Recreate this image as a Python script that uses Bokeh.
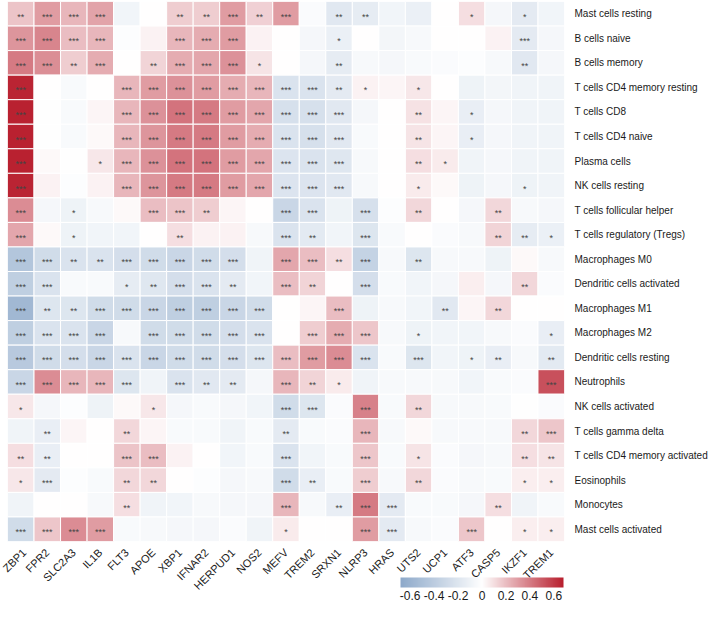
import numpy as np
from bokeh.plotting import figure
from bokeh.models import ColumnDataSource, LinearColorMapper, ColorBar, FixedTicker, CustomJSTickFormatter, AllLabels
from bokeh.transform import transform
from bokeh.embed import file_html
from bokeh.resources import INLINE
from bokeh.core.properties import value

genes = ["ZBP1", "FPR2", "SLC2A3", "IL1B", "FLT3", "APOE", "XBP1", "IFNAR2", "HERPUD1", "NOS2",
         "MEFV", "TREM2", "SRXN1", "NLRP3", "HRAS", "UTS2", "UCP1", "ATF3", "CASP5", "IKZF1", "TREM1"]

cells = ["Mast cells resting", "B cells naive", "B cells memory", "T cells CD4 memory resting",
         "T cells CD8", "T cells CD4 naive", "Plasma cells", "NK cells resting",
         "T cells follicular helper", "T cells regulatory (Tregs)", "Macrophages M0",
         "Dendritic cells activated", "Macrophages M1", "Macrophages M2", "Dendritic cells resting",
         "Neutrophils", "NK cells activated", "T cells gamma delta", "T cells CD4 memory activated",
         "Eosinophils", "Monocytes", "Mast cells activated"]

corr = [
    [0.18, 0.30, 0.22, 0.28, -0.08, 0.00, 0.15, 0.15, 0.30, 0.14, 0.30, -0.03, -0.18, -0.15, -0.08, -0.12, 0.00, 0.10, -0.06, -0.16, -0.08],
    [0.32, 0.37, 0.20, 0.22, -0.02, 0.04, 0.22, 0.25, 0.30, 0.04, 0.00, -0.06, -0.12, 0.00, -0.07, -0.05, 0.00, 0.00, 0.04, -0.16, -0.06],
    [0.40, 0.34, 0.15, 0.25, 0.00, 0.13, 0.25, 0.27, 0.33, 0.08, 0.00, -0.06, -0.15, -0.05, -0.06, -0.04, -0.03, -0.02, -0.05, -0.18, -0.06],
    [0.66, 0.00, -0.04, 0.00, 0.22, 0.30, 0.33, 0.30, 0.25, 0.22, -0.22, -0.22, -0.16, 0.04, 0.03, 0.07, 0.00, -0.10, -0.07, -0.09, -0.09],
    [0.67, -0.01, -0.04, 0.03, 0.22, 0.33, 0.42, 0.40, 0.30, 0.27, -0.24, -0.24, -0.18, -0.06, 0.00, 0.09, 0.03, -0.13, -0.06, -0.09, -0.09],
    [0.67, -0.01, -0.04, 0.02, 0.22, 0.32, 0.40, 0.40, 0.30, 0.25, -0.22, -0.24, -0.18, -0.04, 0.00, 0.08, 0.03, -0.13, -0.06, -0.09, -0.09],
    [0.67, 0.02, -0.01, 0.07, 0.22, 0.33, 0.42, 0.42, 0.30, 0.27, -0.21, -0.22, -0.19, -0.05, 0.00, 0.10, 0.06, -0.09, -0.06, -0.09, -0.09],
    [0.66, 0.04, -0.02, 0.04, 0.22, 0.32, 0.40, 0.40, 0.30, 0.27, -0.21, -0.21, -0.18, -0.05, 0.00, 0.06, 0.02, -0.10, -0.06, -0.10, -0.09],
    [0.35, -0.06, -0.10, -0.05, 0.02, 0.20, 0.18, 0.15, 0.03, 0.00, -0.32, -0.22, -0.10, -0.24, -0.02, 0.12, 0.00, -0.06, 0.12, -0.05, -0.06],
    [0.27, 0.02, -0.10, -0.08, -0.08, 0.00, 0.10, 0.04, 0.04, -0.05, -0.22, -0.17, -0.08, -0.20, -0.04, 0.00, -0.03, -0.05, 0.13, -0.15, -0.12],
    [-0.45, -0.28, -0.22, -0.22, -0.26, -0.28, -0.32, -0.28, -0.26, -0.09, 0.27, 0.20, 0.10, -0.35, -0.05, -0.20, -0.05, -0.05, -0.10, 0.02, -0.05],
    [-0.38, -0.22, -0.04, -0.04, -0.15, -0.19, -0.26, -0.22, -0.16, -0.08, 0.20, 0.13, 0.00, -0.26, -0.04, -0.08, -0.06, 0.05, -0.06, 0.12, -0.03],
    [-0.56, -0.20, -0.20, -0.28, -0.28, -0.32, -0.38, -0.38, -0.32, -0.28, 0.00, 0.03, 0.20, -0.10, -0.05, -0.08, -0.18, 0.03, 0.12, 0.00, 0.00],
    [-0.38, -0.22, -0.22, -0.32, -0.05, -0.28, -0.28, -0.28, -0.26, -0.22, 0.00, 0.15, 0.25, 0.17, -0.05, -0.10, -0.08, -0.08, -0.05, -0.03, -0.13],
    [-0.42, -0.28, -0.26, -0.32, -0.22, -0.32, -0.28, -0.28, -0.26, -0.20, 0.20, 0.30, 0.35, -0.22, -0.04, -0.20, -0.08, -0.10, -0.13, -0.05, -0.17],
    [-0.32, 0.35, 0.22, 0.22, -0.20, -0.09, -0.22, -0.18, -0.16, -0.06, 0.22, 0.13, 0.06, -0.09, -0.05, -0.05, -0.05, -0.08, -0.04, -0.03, 0.53],
    [0.07, -0.06, -0.02, -0.10, 0.02, 0.07, -0.06, -0.04, -0.06, -0.08, -0.28, -0.20, -0.03, 0.38, -0.04, 0.12, -0.05, -0.05, -0.04, -0.01, -0.03],
    [-0.09, -0.13, 0.03, 0.00, 0.12, 0.03, -0.04, -0.04, -0.09, -0.04, -0.16, -0.04, -0.03, 0.22, -0.05, 0.02, -0.05, -0.05, -0.05, 0.12, 0.17],
    [0.10, -0.13, 0.00, 0.00, 0.18, 0.20, 0.04, 0.00, -0.08, -0.04, -0.22, -0.08, -0.04, 0.17, -0.04, 0.08, -0.03, -0.06, -0.05, 0.10, 0.08],
    [0.07, -0.16, -0.02, -0.04, 0.12, 0.12, 0.00, -0.02, -0.06, -0.05, -0.28, -0.13, -0.04, 0.15, -0.05, 0.12, -0.03, -0.05, -0.04, 0.05, 0.05],
    [-0.09, 0.00, 0.00, -0.05, 0.10, -0.09, -0.08, -0.05, -0.06, -0.06, 0.22, -0.05, -0.13, 0.40, -0.16, -0.04, -0.04, -0.06, 0.10, -0.09, -0.04],
    [-0.28, 0.17, 0.35, 0.30, -0.04, -0.05, -0.06, -0.06, -0.03, -0.09, 0.06, 0.00, 0.00, 0.30, -0.16, -0.05, -0.03, 0.17, 0.00, 0.05, 0.05],
]

stars = [
    ["**", "***", "***", "***", "", "", "**", "**", "***", "**", "***", "", "**", "**", "", "", "", "*", "", "*", ""],
    ["***", "***", "***", "***", "", "", "***", "***", "***", "", "", "", "*", "", "", "", "", "", "", "***", ""],
    ["***", "***", "**", "***", "", "**", "***", "***", "***", "*", "", "", "**", "", "", "", "", "", "", "**", ""],
    ["***", "", "", "", "***", "***", "***", "***", "***", "***", "***", "***", "**", "*", "", "*", "", "", "", "", ""],
    ["***", "", "", "", "***", "***", "***", "***", "***", "***", "***", "***", "***", "", "", "**", "", "*", "", "", ""],
    ["***", "", "", "", "***", "***", "***", "***", "***", "***", "***", "***", "***", "", "", "**", "", "*", "", "", ""],
    ["***", "", "", "*", "***", "***", "***", "***", "***", "***", "***", "***", "***", "", "", "**", "*", "", "", "", ""],
    ["***", "", "", "", "***", "***", "***", "***", "***", "***", "***", "***", "***", "", "", "*", "", "", "", "*", ""],
    ["***", "", "*", "", "", "***", "***", "**", "", "", "***", "***", "", "***", "", "**", "", "", "**", "", ""],
    ["***", "", "*", "", "", "", "**", "", "", "", "***", "**", "", "***", "", "", "", "", "**", "**", "*"],
    ["***", "***", "**", "**", "***", "***", "***", "***", "***", "", "***", "***", "**", "***", "", "**", "", "", "", "", ""],
    ["***", "***", "", "", "*", "**", "***", "***", "**", "", "***", "**", "", "***", "", "", "", "", "", "**", ""],
    ["***", "**", "**", "***", "***", "***", "***", "***", "***", "***", "", "", "***", "", "", "", "**", "", "**", "", ""],
    ["***", "***", "***", "***", "", "***", "***", "***", "***", "***", "", "***", "***", "***", "", "*", "", "", "", "", "*"],
    ["***", "***", "***", "***", "***", "***", "***", "***", "***", "***", "***", "***", "***", "***", "", "***", "", "*", "**", "", "**"],
    ["***", "***", "***", "***", "***", "", "***", "**", "**", "", "***", "**", "*", "", "", "", "", "", "", "", "***"],
    ["*", "", "", "", "", "*", "", "", "", "", "***", "***", "", "***", "", "**", "", "", "", "", ""],
    ["", "**", "", "", "**", "", "", "", "", "", "**", "", "", "***", "", "", "", "", "", "**", "***"],
    ["**", "**", "", "", "***", "***", "", "", "", "", "***", "", "", "***", "", "*", "", "", "", "**", "**"],
    ["*", "***", "", "", "**", "**", "", "", "", "", "***", "**", "", "***", "", "**", "", "", "", "*", "*"],
    ["", "", "", "", "**", "", "", "", "", "", "***", "", "**", "***", "***", "", "", "", "**", "", ""],
    ["***", "***", "***", "***", "", "", "", "", "", "", "*", "", "", "***", "***", "", "", "***", "", "*", "*"],
]

cbar_ticks = [-0.6, -0.4, -0.2, 0.0, 0.2, 0.4, 0.6]


def hex_to_rgb(h):
    h = h.lstrip("#")
    return np.array([int(h[i:i + 2], 16) for i in (0, 2, 4)], dtype=float)


def ramp(c0, c1, c2, n=256):
    a, b, c = hex_to_rgb(c0), hex_to_rgb(c1), hex_to_rgb(c2)
    out = []
    for t in np.linspace(0, 1, n):
        if t < 0.5:
            col = a + (b - a) * (t / 0.5)
        else:
            col = b + (c - b) * ((t - 0.5) / 0.5)
        out.append("#%02x%02x%02x" % tuple(int(round(v)) for v in col))
    return out


palette = ramp("#8DA9CA", "#FFFFFF", "#B81F2E")
mapper = LinearColorMapper(palette=palette, low=-0.68, high=0.68)

xs, ys, vs, ss = [], [], [], []
for i, cell in enumerate(cells):
    for j, g in enumerate(genes):
        xs.append(g)
        ys.append(cell)
        vs.append(corr[i][j])
        ss.append(stars[i][j])
src = ColumnDataSource(dict(x=xs, y=ys, v=vs, s=ss))

p = figure(x_range=genes, y_range=cells[::-1], frame_width=557, frame_height=540,
           output_backend="svg", toolbar_location=None, y_axis_location="right",
           min_border_left=7, min_border_top=1, min_border_right=0, min_border_bottom=61)
p.outline_line_color = None
p.grid.grid_line_color = None
p.background_fill_color = "white"

p.rect(x="x", y="y", width=1, height=1, source=src, fill_color=transform("v", mapper),
       line_color="white", line_width=1)
p.text(x="x", y="y", text="s", source=src, text_align="center", text_baseline="middle",
       text_font_size="9px", text_color="#444444", y_offset=3, text_font=value("Liberation Sans"))

for ax in (p.xaxis, p.yaxis):
    ax.axis_line_color = None
    ax.major_tick_line_color = None
    ax.minor_tick_line_color = None
    ax.major_label_text_font = "Liberation Sans"
    ax.major_label_text_color = "#1a1a1a"
p.yaxis.major_label_text_font_size = "10px"
p.xaxis.major_label_text_font_size = "11px"
p.xaxis.major_label_orientation = np.pi / 4
p.xaxis.major_label_standoff = 3
p.yaxis.major_label_standoff = 4

cb = ColorBar(color_mapper=mapper, orientation="horizontal", width=163, height=10,
              location=(393, -61), padding=0,
              ticker=FixedTicker(ticks=cbar_ticks),
              formatter=CustomJSTickFormatter(code="return Math.abs(tick) < 1e-9 ? '0' : tick.toFixed(1);"),
              major_label_policy=AllLabels(),
              major_label_text_font_size="12px", major_label_text_font="Liberation Sans",
              major_label_text_color="#1a1a1a",
              major_tick_line_color=None, minor_tick_line_color=None,
              bar_line_color=None, border_line_color=None, background_fill_color=None,
              label_standoff=3)
p.add_layout(cb, "center")

open("out.html", "w").write(file_html(p, INLINE))
